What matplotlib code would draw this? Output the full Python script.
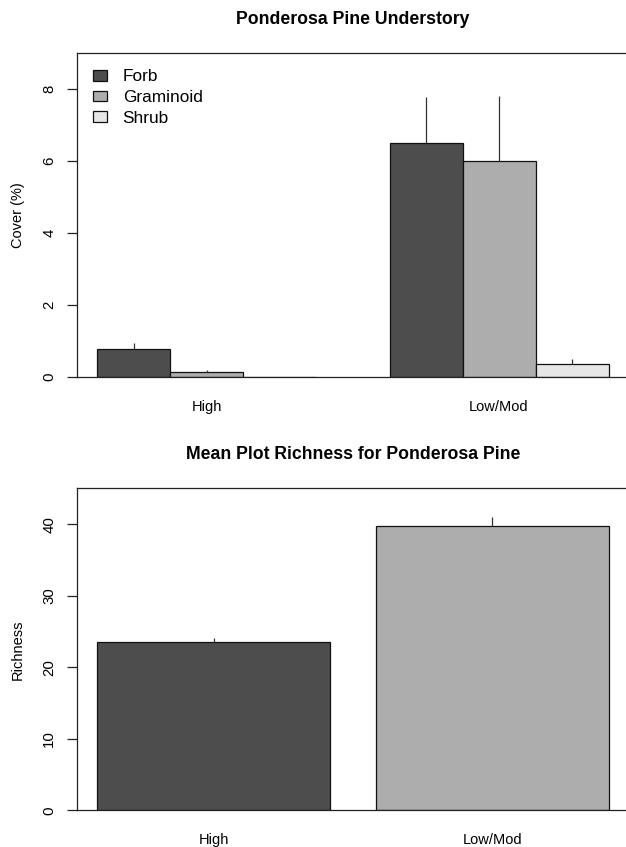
import numpy as np
import matplotlib
matplotlib.use("Agg")
import matplotlib.pyplot as plt

plt.rcParams['font.family'] = ['Liberation Sans', 'DejaVu Sans']

# cover by functional group, per burn severity
severity = ["High", "Low/Mod"]
groups = ["Forb", "Graminoid", "Shrub"]
cover_mean = {
    "Forb": [0.76, 6.49],
    "Graminoid": [0.14, 5.99],
    "Shrub": [0.0, 0.34],
}
cover_se = {
    "Forb": [0.18, 1.28],
    "Graminoid": [0.05, 1.82],
    "Shrub": [0.0, 0.15],
}
group_cols = ["#4d4d4d", "#adadad", "#e6e6e6"]

# mean plot richness
richness_mean = [23.47, 39.76]
richness_se = [0.63, 1.24]
rich_cols = ["#4d4d4d", "#adadad"]

fig = plt.figure(figsize=(6.26, 8.47), dpi=100)
W, H = 626, 847


def px_axes(left, top, right, bottom):
    return fig.add_axes([left / W, 1 - bottom / H, (right - left) / W, (bottom - top) / H])


def style_axes(ax):
    for s in ax.spines.values():
        s.set_linewidth(0.9)
        s.set_color("#222222")
    ax.spines["right"].set_visible(False)
    ax.tick_params(axis="y", length=7, width=0.9, color="#222222", pad=8,
                   labelsize=10.8, labelrotation=90)
    for lab in ax.get_yticklabels():
        lab.set_va("center")
    ax.tick_params(axis="x", length=0, pad=16.5, labelsize=10.5)


# ---- top panel
ax1 = px_axes(77, 53, 629, 376.7)
nb = len(groups)
for i, g in enumerate(groups):
    x = np.arange(len(severity)) * (nb + 1) + i + 1.5
    ax1.bar(x, cover_mean[g], width=1.0, color=group_cols[i], edgecolor="#111111",
            linewidth=0.9, label=g, zorder=2)
    ax1.errorbar(x, cover_mean[g], yerr=[np.zeros(len(x)), cover_se[g]], fmt="none",
                 ecolor="#333333", elinewidth=0.9, capsize=0, zorder=3)
ax1.set_xlim(0.72, 8.28)
ax1.set_ylim(0, 9)
ax1.set_yticks([0, 2, 4, 6, 8])
ax1.set_xticks(np.arange(len(severity)) * (nb + 1) + 2.5)
ax1.set_xticklabels(severity)
style_axes(ax1)
ax1.set_ylabel("Cover (%)", fontsize=10.5)
ax1.yaxis.set_label_coords(-0.094, 0.5)
ax1.set_title("Ponderosa Pine Understory", fontsize=12.7, fontweight="bold", pad=21)
ax1.legend(loc="upper left", bbox_to_anchor=(0.029, 0.95), frameon=False,
           fontsize=12.4, handlelength=0.82, handleheight=0.6, handletextpad=0.9,
           labelspacing=0.34, borderpad=0, borderaxespad=0)

# ---- bottom panel
ax2 = px_axes(77, 488.3, 629, 810.3)
xb = np.arange(len(severity)) * 1.2 + 0.7
ax2.bar(xb, richness_mean, width=1.0, color=rich_cols, edgecolor="#111111",
        linewidth=0.9, zorder=2)
ax2.errorbar(xb, richness_mean, yerr=[np.zeros(len(xb)), richness_se], fmt="none",
             ecolor="#333333", elinewidth=0.9, capsize=0, zorder=3)
ax2.set_xlim(0.112, 2.488)
ax2.set_ylim(0, 45)
ax2.set_yticks([0, 10, 20, 30, 40])
ax2.set_xticks(xb)
ax2.set_xticklabels(severity)
style_axes(ax2)
ax2.set_ylabel("Richness", fontsize=10.5)
ax2.yaxis.set_label_coords(-0.094, 0.5)
ax2.set_title("Mean Plot Richness for Ponderosa Pine", fontsize=12.7, fontweight="bold", pad=21)

fig.savefig("out.png", dpi=100)
